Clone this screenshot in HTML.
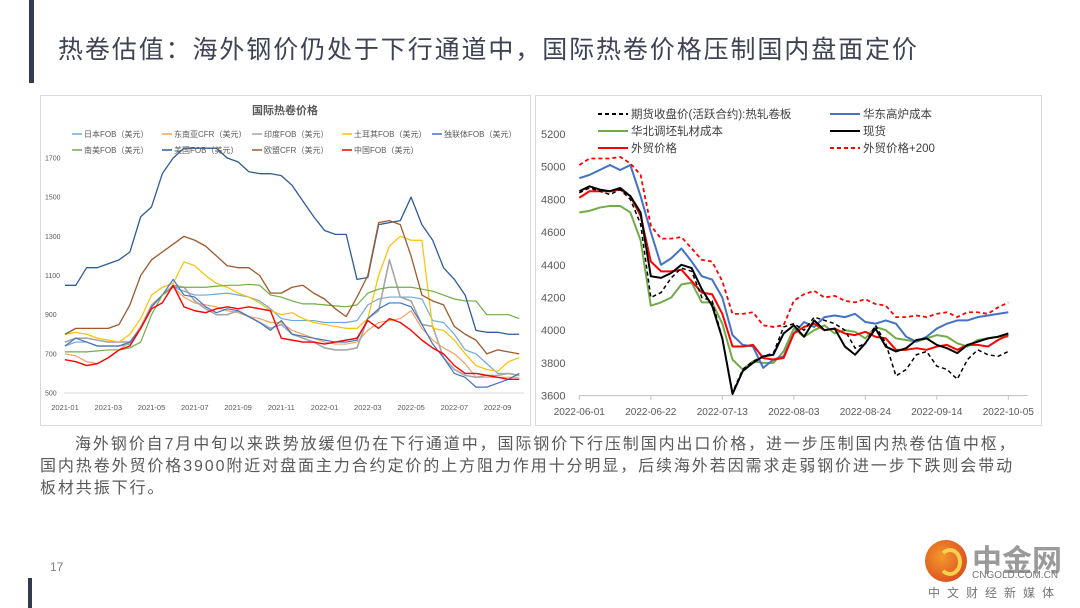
<!DOCTYPE html>
<html><head><meta charset="utf-8"><style>
body{margin:0;width:1080px;height:608px;background:#fff;position:relative;overflow:hidden;font-family:"Liberation Sans","Noto Sans CJK SC",sans-serif}
.abs{position:absolute}
</style></head><body>
<div class="abs" style="left:29px;top:0;width:5px;height:83px;background:#333a52"></div>
<div class="abs" style="left:28px;top:578px;width:4px;height:30px;background:#333a52"></div>
<div class="abs" style="left:58px;top:30px;font-size:25px;color:#3f4356;white-space:nowrap;letter-spacing:1.9px">热卷估值：海外钢价仍处于下行通道中，国际热卷价格压制国内盘面定价</div>

<svg class="abs" style="left:0;top:0" width="1080" height="608">
<rect x="40.5" y="95.5" width="490" height="330" fill="#fff" stroke="#d9d9d9"/>
<rect x="535.5" y="95.5" width="506" height="330" fill="#fff" stroke="#d9d9d9"/>
<g id="left"></g><g id="right"></g>
</svg>

<div class="abs" style="left:40px;top:434px;width:1040px;font-size:16px;line-height:22px;color:#595959;letter-spacing:1.9px;white-space:nowrap">
<div style="padding-left:35px">海外钢价自7月中旬以来跌势放缓但仍在下行通道中，国际钢价下行压制国内出口价格，进一步压制国内热卷估值中枢，</div>
<div>国内热卷外贸价格3900附近对盘面主力合约定价的上方阻力作用十分明显，后续海外若因需求走弱钢价进一步下跌则会带动</div>
<div>板材共振下行。</div>
</div>
<div class="abs" style="left:50px;top:560px;font-size:12px;color:#7f7f7f">17</div>

<div class="abs" style="left:922px;top:540px;width:150px;height:68px">
<div class="abs" style="left:3px;top:0;width:42px;height:42px;border-radius:50%;background:radial-gradient(circle at 40% 40%,#f39a2b,#d4381c)"></div>
<div class="abs" style="left:16px;top:8px;width:16px;height:20px;border-radius:50%;border:4px solid #f8d24c;border-left-color:transparent"></div>
<div class="abs" style="left:50px;top:-4px;font-size:30px;font-weight:bold;color:#9a9a9a">中金网</div>
<div class="abs" style="left:50px;top:30px;font-size:10px;color:#777">CNGOLD.COM.CN</div>
<div class="abs" style="left:6px;top:44px;font-size:12px;color:#777;letter-spacing:7px">中文财经新媒体</div>
</div>

<script>
// ---------- LEFT CHART DATA (months since 2021-01, half-month steps) ----------
const leftMonths = [0,0.5,1,1.5,2,2.5,3,3.5,4,4.5,5,5.5,6,6.5,7,7.5,8,8.5,9,9.5,10,10.5,11,11.5,12,12.5,13,13.5,14,14.5,15,15.5,16,16.5,17,17.5,18,18.5,19,19.5,20,20.5,21];
const leftTickLabels = ["2021-01","2021-03","2021-05","2021-07","2021-09","2021-11","2022-01","2022-03","2022-05","2022-07","2022-09"];
const leftYTicks = [500,700,900,1100,1300,1500,1700];
const japanFob = [740,760,760,740,740,740,750,840,950,1000,1040,1020,1000,1000,1005,1010,1000,990,970,930,880,870,870,870,860,860,860,870,950,980,990,990,990,980,870,860,800,720,700,650,600,600,590];
const seAsiaCfr = [700,690,660,650,680,720,760,840,950,1000,1040,990,960,950,940,920,910,890,880,860,860,820,800,780,760,750,750,760,820,860,870,880,920,830,770,730,700,650,580,580,580,580,580];
const indiaFob = [760,780,780,770,760,760,760,830,940,1000,1050,1040,970,930,900,900,920,890,860,830,850,800,780,760,730,720,720,730,880,920,1180,990,970,850,840,680,620,590,580,590,590,600,590];
const turkeyFob = [800,810,800,780,770,760,800,880,1000,1040,1060,1170,1150,1100,1060,1040,1010,990,960,920,900,910,880,860,850,840,830,830,880,1100,1250,1300,1280,1280,830,820,770,700,640,620,610,660,680];
const cisFob = [740,780,760,740,740,740,760,830,940,1000,1080,1000,990,940,910,930,920,890,860,820,870,800,790,780,770,760,760,770,880,930,960,960,940,850,750,680,600,580,530,530,550,570,600];
const southAmFob = [710,710,710,715,720,720,730,760,900,1000,1040,1040,1040,1040,1045,1050,1050,1055,1050,1000,990,970,955,955,950,945,940,950,1010,1030,1040,1040,1040,1030,1020,1000,980,970,970,900,900,900,880];
const usaFob = [1050,1050,1140,1140,1160,1180,1220,1400,1450,1620,1700,1750,1750,1750,1750,1700,1680,1630,1620,1620,1610,1560,1480,1400,1330,1310,1310,1080,1090,1360,1370,1380,1500,1360,1280,1140,1080,1000,820,810,810,800,800];
const euCfr = [800,830,830,830,830,850,950,1100,1180,1220,1260,1300,1280,1250,1200,1150,1140,1140,1100,1010,1010,1040,1050,1010,980,930,890,990,1100,1370,1380,1360,1200,1000,970,950,840,800,770,700,720,710,700];
const chinaFob = [670,660,640,650,680,720,740,830,930,960,1050,940,920,910,930,940,930,940,930,920,780,770,760,760,750,760,770,780,870,830,880,860,820,770,730,700,640,600,600,590,580,570,570];
const leftNames = ["日本FOB（美元）","东南亚CFR（美元）","印度FOB（美元）","土耳其FOB（美元）","独联体FOB（美元）","南美FOB（美元）","美国FOB（美元）","欧盟CFR（美元）","中国FOB（美元）"];

// ---------- RIGHT CHART DATA (days since 2022-06-01, 3-day steps) ----------
const rightDays = [0,3,6,9,12,15,18,21,24,27,30,33,36,39,42,45,48,51,54,57,60,63,66,69,72,75,78,81,84,87,90,93,96,99,102,105,108,111,114,117,120,123,126];
const rightTickLabels = ["2022-06-01","2022-06-22","2022-07-13","2022-08-03","2022-08-24","2022-09-14","2022-10-05"];
const rightYTicks = [3600,3800,4000,4200,4400,4600,4800,5000,5200];
const futures = [4840,4870,4850,4830,4860,4800,4650,4200,4230,4320,4380,4360,4200,4180,3950,3620,3760,3810,3840,3860,4020,4040,4000,4080,4060,4040,4000,3890,3920,4030,3920,3720,3760,3850,3870,3780,3760,3700,3820,3880,3850,3840,3870];
const eastCost = [4930,4950,4980,5010,4980,5010,4820,4600,4400,4440,4500,4420,4330,4310,4200,3970,3910,3900,3770,3820,3840,3980,4050,4020,4080,4090,4080,4100,4050,4040,4060,4040,3960,3930,3960,4010,4040,4060,4060,4080,4090,4100,4110];
const northCost = [4720,4730,4750,4760,4760,4720,4550,4150,4170,4200,4280,4290,4170,4170,4040,3820,3760,3810,3800,3800,3870,4010,3960,4000,4030,3980,4000,3990,3950,4020,4000,3950,3940,3930,3950,3970,3960,3920,3900,3940,3950,3960,3960];
const spot = [4850,4880,4860,4850,4870,4820,4720,4330,4320,4350,4400,4380,4250,4150,3950,3610,3750,3800,3840,3850,3980,4030,3960,4060,4000,4010,3900,3850,3920,4010,3900,3870,3890,3940,3950,3910,3890,3860,3910,3930,3950,3960,3980];
const exportPrice = [4810,4850,4850,4850,4860,4820,4700,4420,4360,4360,4370,4300,4230,4220,4100,3900,3900,3910,3830,3820,3830,3980,4020,4040,4000,4010,3980,3970,3990,3960,3950,3880,3880,3890,3880,3900,3910,3880,3910,3910,3900,3940,3970];
const exportPlus200 = [5010,5050,5050,5050,5060,5020,4950,4640,4560,4560,4570,4500,4430,4420,4300,4100,4100,4110,4030,4020,4030,4180,4220,4240,4200,4210,4180,4170,4190,4160,4150,4080,4080,4090,4080,4100,4110,4080,4110,4110,4100,4140,4170];

const NS="http://www.w3.org/2000/svg";
function mk(parent,tag,attrs){const e=document.createElementNS(NS,tag);for(const k in attrs)e.setAttribute(k,attrs[k]);parent.appendChild(e);return e;}
function txt(parent,x,y,s,size,color,anchor){const t=mk(parent,'text',{x:x,y:y,'font-size':size,fill:color,'text-anchor':anchor||'start','font-family':'"Liberation Sans","Noto Sans CJK SC",sans-serif'});t.textContent=s;return t;}

// ---- left chart ----
(function(){
const g=document.getElementById('left');
const lx=m=>65+m*21.63, ly=v=>393-(v-500)*235/1200;
const title=txt(g,285,114,"国际热卷价格",11,"#595959","middle");
title.setAttribute('font-weight','bold');


const ax=mk(g,'line',{x1:64,x2:524,y1:ly(500),y2:ly(500),stroke:'#d9d9d9'});


leftYTicks.forEach(v=>{const t=txt(g,45,ly(v)+2.5,String(v),7,"#595959","start");

});
leftTickLabels.forEach((s,i)=>{const t=txt(g,lx(i*2),410,s,7.5,"#595959","middle");

});
const series=[japanFob,seAsiaCfr,indiaFob,turkeyFob,cisFob,southAmFob,usaFob,euCfr,chinaFob];
const colors=["#6fa8dc","#f4a261","#a6a6a6","#ffc000","#4472c4","#70ad47","#2e5c9a","#9e5a2e","#ff0000"];
const widths=[1.2,1.2,1.6,1.2,1.2,1.2,1.3,1.3,1.4];
const keys=["japan","se-asia","india","turkey","cis","south-america","usa","eu","china"];
series.forEach((s,i)=>{
 const p=mk(g,'polyline',{points:s.map((v,j)=>lx(leftMonths[j])+','+ly(v)).join(' '),fill:'none',stroke:colors[i],'stroke-width':widths[i],'stroke-linejoin':'round'});
 
 
 const col=i<5?i:i-5,row=i<5?0:1;
 const x0=72+col*90, y0=134+row*16;
 const l=mk(g,'line',{x1:x0,x2:x0+10,y1:y0,y2:y0,stroke:colors[i],'stroke-width':1.5});
 
 
 const t=txt(g,x0+12,y0+3,leftNames[i],8,"#595959","start");
 
 
});
})();

// ---- right chart ----
(function(){
const g=document.getElementById('right');
const rx=d=>579.3+d*3.405, ry=v=>395.6-(v-3600)*261.6/1600;
const ax=mk(g,'line',{x1:579,x2:1028,y1:ry(3600),y2:ry(3600),stroke:'#bfbfbf'});


rightYTicks.forEach(v=>{const t=txt(g,541,ry(v)+4,String(v),11,"#595959","start");

});
rightTickLabels.forEach((s,i)=>{
 const tk=mk(g,'line',{x1:rx(i*21),x2:rx(i*21),y1:ry(3600),y2:ry(3600)+4,stroke:'#bfbfbf'});
 
 
 const t=txt(g,rx(i*21),415,s,10,"#595959","middle");
 
 });
const defs=[
 {d:northCost,c:'#70ad47',w:2,da:'',n:'华北调坯轧材成本',k:'north-cost',lx:598,ly:131},
 {d:eastCost,c:'#4472c4',w:2,da:'',n:'华东高炉成本',k:'east-cost',lx:830,ly:114},
 {d:exportPlus200,c:'#ff0000',w:1.8,da:'4,3',n:'外贸价格+200',k:'export-plus-200',lx:830,ly:148},
 {d:exportPrice,c:'#ff0000',w:2,da:'',n:'外贸价格',k:'export-price',lx:598,ly:148},
 {d:futures,c:'#000',w:1.5,da:'4,3',n:'期货收盘价(活跃合约):热轧卷板',k:'futures',lx:598,ly:114},
 {d:spot,c:'#000',w:2,da:'',n:'现货',k:'spot',lx:830,ly:131}
];
defs.forEach(s=>{
 const p=mk(g,'polyline',{points:s.d.map((v,j)=>rx(rightDays[j])+','+ry(v)).join(' '),fill:'none',stroke:s.c,'stroke-width':s.w,'stroke-dasharray':s.da,'stroke-linejoin':'round'});
 
 
 const l=mk(g,'line',{x1:s.lx,x2:s.lx+30,y1:s.ly,y2:s.ly,stroke:s.c,'stroke-width':2,'stroke-dasharray':s.da});
 
 
 const t=txt(g,s.lx+33,s.ly+4,s.n,11.5,"#404040","start");
 
 
});
})();
</script>
</body></html>
